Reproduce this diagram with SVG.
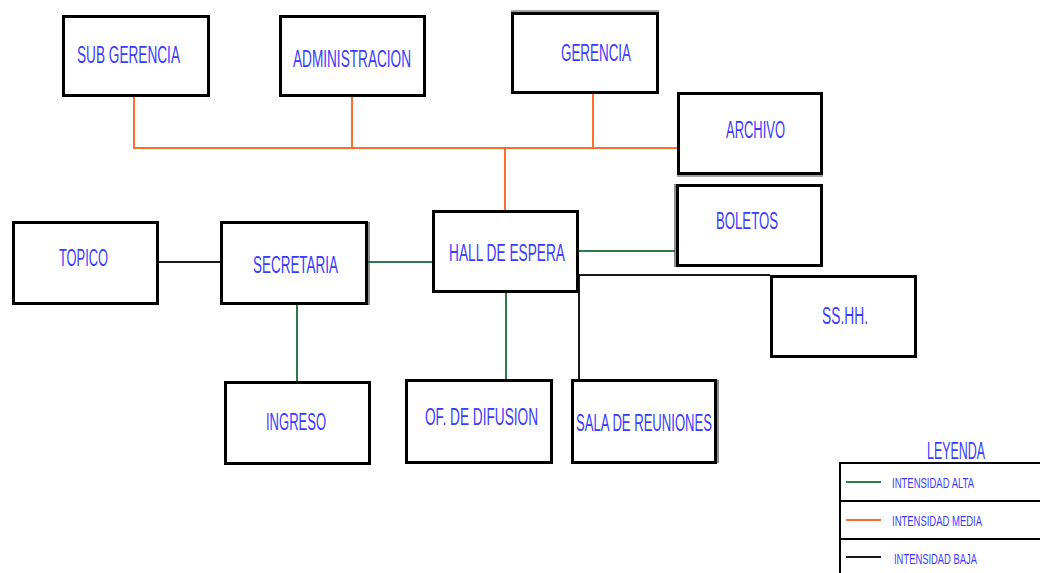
<svg xmlns="http://www.w3.org/2000/svg" width="1040" height="573" viewBox="0 0 1040 573">
<style>
.box{fill:#fff;stroke:#000;stroke-width:3}
.dbl{fill:none;stroke:#444;stroke-width:1.2}
.lbl{font-family:"Liberation Sans",Arial,sans-serif;font-size:23px;fill:#3a3aff}
.leg{font-family:"Liberation Sans",Arial,sans-serif;font-size:15px;fill:#3a3aff}
.o{stroke:#ff6d2e;stroke-width:2;fill:none}
.g{stroke:#2f7a48;stroke-width:2;fill:none}
.k{stroke:#1a1a1a;stroke-width:2;fill:none}
.t{stroke:#000;stroke-width:2;fill:none}
</style>
<rect width="1040" height="573" fill="#fff"/>
<g id="connectors">
<polyline class="o" points="134,97 134,148 677,148"/>
<line class="o" x1="352" y1="97" x2="352" y2="148"/>
<line class="o" x1="593" y1="94" x2="593" y2="148"/>
<line class="o" x1="505" y1="148" x2="505" y2="211"/>
<line class="g" x1="368" y1="262" x2="433" y2="262"/>
<line class="g" x1="297" y1="304" x2="297" y2="381"/>
<line class="g" x1="506" y1="292" x2="506" y2="379"/>
<line class="g" x1="579" y1="251" x2="675" y2="251"/>
<line class="k" x1="158" y1="262" x2="221" y2="262"/>
<line class="k" x1="579" y1="275" x2="770" y2="275"/>
<line class="k" x1="579" y1="275" x2="579" y2="379"/>
</g>
<g id="subgerencia"><rect class="box" x="63.5" y="16.5" width="145" height="79"/><text class="lbl" x="77" y="63" textLength="103" lengthAdjust="spacingAndGlyphs">SUB GERENCIA</text></g>
<g id="administracion"><rect class="box" x="280.5" y="16.5" width="144" height="79"/><text class="lbl" x="293" y="67" textLength="118" lengthAdjust="spacingAndGlyphs">ADMINISTRACION</text></g>
<g id="gerencia"><rect class="box" x="512.5" y="13.5" width="145" height="79"/><line class="dbl" x1="511" y1="11" x2="659" y2="11"/><text class="lbl" x="561" y="61" textLength="70" lengthAdjust="spacingAndGlyphs">GERENCIA</text></g>
<g id="archivo"><rect class="box" x="678.5" y="93.5" width="143" height="80"/><line class="dbl" x1="677" y1="176" x2="823" y2="176"/><text class="lbl" x="726" y="138" textLength="59" lengthAdjust="spacingAndGlyphs">ARCHIVO</text></g>
<g id="boletos"><rect class="box" x="677.5" y="185.5" width="144" height="80"/><line class="dbl" x1="675" y1="184" x2="675" y2="267"/><text class="lbl" x="716" y="229" textLength="62" lengthAdjust="spacingAndGlyphs">BOLETOS</text></g>
<g id="sshh"><rect class="box" x="771.5" y="276.5" width="144" height="80"/><text class="lbl" x="822" y="324" textLength="46" lengthAdjust="spacingAndGlyphs">SS.HH.</text></g>
<g id="hall"><rect class="box" x="433.5" y="211.5" width="144" height="80"/><text class="lbl" x="449" y="261" textLength="116" lengthAdjust="spacingAndGlyphs">HALL DE ESPERA</text></g>
<g id="secretaria"><rect class="box" x="221.5" y="222.5" width="145" height="81"/><line class="dbl" x1="369" y1="222" x2="369" y2="305"/><text class="lbl" x="253" y="273" textLength="85" lengthAdjust="spacingAndGlyphs">SECRETARIA</text></g>
<g id="topico"><rect class="box" x="13.5" y="222.5" width="144" height="81"/><text class="lbl" x="59" y="266" textLength="49" lengthAdjust="spacingAndGlyphs">TOPICO</text></g>
<g id="ingreso"><rect class="box" x="225.5" y="382.5" width="144" height="81"/><text class="lbl" x="266" y="430" textLength="60" lengthAdjust="spacingAndGlyphs">INGRESO</text></g>
<g id="difusion"><rect class="box" x="406.5" y="380.5" width="145" height="82"/><text class="lbl" x="425" y="425" textLength="113" lengthAdjust="spacingAndGlyphs">OF. DE DIFUSION</text></g>
<g id="reuniones"><rect class="box" x="572.5" y="380.5" width="143" height="82"/><line class="dbl" x1="718" y1="380" x2="718" y2="463"/><text class="lbl" x="576" y="431" textLength="136" lengthAdjust="spacingAndGlyphs">SALA DE REUNIONES</text></g>
<g id="leyenda">
<text class="lbl" x="927" y="459" textLength="58" lengthAdjust="spacingAndGlyphs">LEYENDA</text>
<polyline class="t" points="840,573 840,463 1040,463"/>
<line class="t" x1="840" y1="501" x2="1040" y2="501"/>
<line class="t" x1="840" y1="539" x2="1040" y2="539"/>
<line class="g" x1="846" y1="482" x2="881" y2="482"/>
<line class="o" x1="846" y1="520" x2="881" y2="520"/>
<line class="k" x1="846" y1="557" x2="881" y2="557"/>
<text class="leg" x="892" y="488" textLength="82" lengthAdjust="spacingAndGlyphs">INTENSIDAD ALTA</text>
<text class="leg" x="892" y="526" textLength="90" lengthAdjust="spacingAndGlyphs">INTENSIDAD MEDIA</text>
<text class="leg" x="894" y="564" textLength="83" lengthAdjust="spacingAndGlyphs">INTENSIDAD BAJA</text>
</g>
</svg>
